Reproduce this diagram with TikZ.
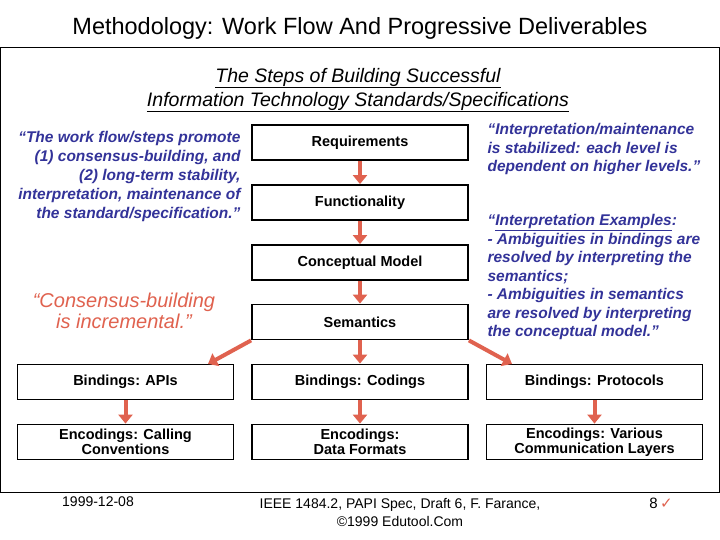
\documentclass[tikz,border=0pt]{standalone}
\usepackage{fontspec}
\setmainfont{Liberation Sans}
\newfontfamily\dejavu{DejaVu Sans}
\usetikzlibrary{arrows.meta}
\definecolor{ared}{HTML}{E0624F}
\definecolor{qblue}{HTML}{333399}
\tikzset{
 stepbox/.style={draw,line width=1.8pt,minimum width=216pt,minimum height=35pt,align=center,font=\fontsize{14.5}{14.5}\selectfont\bfseries,inner sep=1pt},
 flow/.style={ared,line width=4pt,-{Triangle[length=9pt,width=14pt]}},
 bq/.style={qblue,font=\fontsize{15.5}{19}\selectfont\bfseries\itshape}
}
\begin{document}
\begin{tikzpicture}[x=1pt,y=-1pt]
\useasboundingbox (0,0) rectangle (720,540);
\fill[white] (0,0) rectangle (720,540);
\draw[line width=0.8pt] (0.5,47) rectangle (719.5,492);
\node (title) at (360,28) {\fontsize{23.5}{23.5}\selectfont Methodology: Work Flow And Progressive Deliverables};
\node[align=center,font=\fontsize{19.5}{24}\selectfont\itshape] (sub) at (358,90) {\underline{The Steps of Building Successful}\\\underline{Information Technology Standards/Specifications}};
\node[stepbox] (req) at (360,142.5) {Requirements};
\node[stepbox] (fun) at (360,202.5) {Functionality};
\node[stepbox] (con) at (360,262.5) {Conceptual Model};
\node[stepbox] (sem) at (360,322) {Semantics};
\node[stepbox] (bapi) at (125.5,382) {Bindings: APIs};
\node[stepbox] (bcod) at (360,382) {Bindings: Codings};
\node[stepbox] (bpro) at (594.5,382) {Bindings: Protocols};
\node[stepbox] (ecal) at (125.5,442) {Encodings: Calling\\Conventions};
\node[stepbox] (edat) at (360,442) {Encodings:\\Data Formats};
\node[stepbox] (ecom) at (594.5,442) {Encodings: Various\\Communication Layers};
\draw[flow] (req) -- (fun);
\draw[flow] (fun) -- (con);
\draw[flow] (con) -- (sem);
\draw[flow] (sem) -- (bcod);
\draw[flow] (sem.south west) -- (208,364);
\draw[flow] (sem.south east) -- (512,364);
\draw[flow] (bapi) -- (ecal);
\draw[flow] (bcod) -- (edat);
\draw[flow] (bpro) -- (ecom);
\node[bq,align=right,anchor=north east] (lq) at (244,128) {“The work flow/steps promote\\(1) consensus-building, and\\(2) long-term stability,\\interpretation, maintenance of\\the standard/specification.”};
\node[ared,align=center,font=\fontsize{20}{21}\selectfont\itshape] (cq) at (124,311) {“Consensus-building\\is incremental.”};
\node[bq,align=left,anchor=north west,font=\fontsize{15.5}{18.5}\selectfont\bfseries\itshape] (rq) at (484,120) {“Interpretation/maintenance\\is stabilized: each level is\\dependent on higher levels.”};
\node[bq,align=left,anchor=north west,font=\fontsize{15.5}{18.5}\selectfont\bfseries\itshape] (rx) at (484,211) {“\underline{Interpretation Examples}:\\- Ambiguities in bindings are\\resolved by interpreting the\\semantics;\\- Ambiguities in semantics\\are resolved by interpreting\\the conceptual model.”};
\node[font=\fontsize{14}{14}\selectfont] (date) at (98,502) {1999-12-08};
\node[align=center,font=\fontsize{14}{18}\selectfont] (foot) at (400,512) {IEEE 1484.2, PAPI Spec, Draft 6, F. Farance,\\©1999 Edutool.Com};
\node[font=\fontsize{15}{15}\selectfont] (pg) at (661,503) {8\,{\dejavu\color{ared}✓}};
\end{tikzpicture}
\end{document}
